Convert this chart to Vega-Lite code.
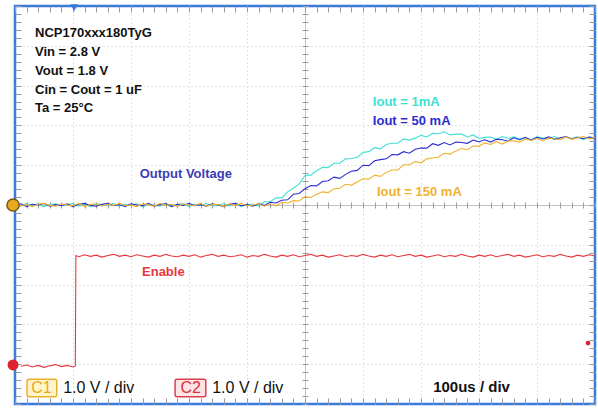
{
"$schema": "https://vega.github.io/schema/vega-lite/v6.json",
"width": 580, "height": 398,
"autosize": {"type": "none"},
"padding": {"left": 15, "top": 6, "right": 3, "bottom": 4},
"background": "white",
"config": {"view": {"stroke": "#3a7ad8", "strokeWidth": 2.5}, "font": "Liberation Sans"},
"datasets": {
"traces": [
{"t":0,"v":0.02,"s":"a"},{"t":10,"v":-0.03,"s":"a"},{"t":20,"v":0.04,"s":"a"},{"t":30,"v":-0.01,"s":"a"},{"t":40,"v":0.03,"s":"a"},{"t":50,"v":-0.04,"s":"a"},{"t":60,"v":0.01,"s":"a"},{"t":70,"v":0.03,"s":"a"},{"t":80,"v":-0.02,"s":"a"},{"t":90,"v":0.0,"s":"a"},{"t":100,"v":0.04,"s":"a"},{"t":110,"v":-0.03,"s":"a"},{"t":120,"v":0.02,"s":"a"},{"t":130,"v":-0.04,"s":"a"},{"t":140,"v":0.03,"s":"a"},{"t":150,"v":0.01,"s":"a"},{"t":160,"v":-0.02,"s":"a"},{"t":170,"v":0.04,"s":"a"},{"t":180,"v":-0.03,"s":"a"},{"t":190,"v":0.02,"s":"a"},{"t":200,"v":-0.01,"s":"a"},{"t":210,"v":0.03,"s":"a"},{"t":220,"v":-0.04,"s":"a"},{"t":230,"v":0.02,"s":"a"},{"t":240,"v":0.0,"s":"a"},{"t":250,"v":-0.03,"s":"a"},{"t":260,"v":0.04,"s":"a"},{"t":270,"v":-0.02,"s":"a"},{"t":280,"v":0.01,"s":"a"},{"t":290,"v":0.03,"s":"a"},{"t":300,"v":-0.04,"s":"a"},{"t":310,"v":0.02,"s":"a"},{"t":320,"v":-0.01,"s":"a"},{"t":330,"v":0.04,"s":"a"},{"t":340,"v":-0.03,"s":"a"},{"t":350,"v":0.0,"s":"a"},{"t":360,"v":0.03,"s":"a"},{"t":370,"v":-0.02,"s":"a"},{"t":380,"v":0.04,"s":"a"},{"t":390,"v":-0.04,"s":"a"},{"t":400,"v":0.01,"s":"a"},{"t":410,"v":0.02,"s":"a"},{"t":420,"v":-0.02,"s":"a"},{"t":430,"v":0.08,"s":"a"},{"t":440,"v":0.08,"s":"a"},{"t":450,"v":0.18,"s":"a"},{"t":460,"v":0.18,"s":"a"},{"t":470,"v":0.33,"s":"a"},{"t":480,"v":0.42,"s":"a"},{"t":490,"v":0.53,"s":"a"},{"t":500,"v":0.74,"s":"a"},{"t":510,"v":0.75,"s":"a"},{"t":520,"v":0.86,"s":"a"},{"t":530,"v":0.95,"s":"a"},{"t":540,"v":0.94,"s":"a"},{"t":550,"v":1.05,"s":"a"},{"t":560,"v":1.05,"s":"a"},{"t":570,"v":1.16,"s":"a"},{"t":580,"v":1.17,"s":"a"},{"t":590,"v":1.2,"s":"a"},{"t":600,"v":1.32,"s":"a"},{"t":610,"v":1.34,"s":"a"},{"t":620,"v":1.44,"s":"a"},{"t":630,"v":1.41,"s":"a"},{"t":640,"v":1.52,"s":"a"},{"t":650,"v":1.55,"s":"a"},{"t":660,"v":1.55,"s":"a"},{"t":670,"v":1.66,"s":"a"},{"t":680,"v":1.63,"s":"a"},{"t":690,"v":1.68,"s":"a"},{"t":700,"v":1.75,"s":"a"},{"t":710,"v":1.71,"s":"a"},{"t":720,"v":1.8,"s":"a"},{"t":730,"v":1.79,"s":"a"},{"t":740,"v":1.84,"s":"a"},{"t":750,"v":1.76,"s":"a"},{"t":760,"v":1.78,"s":"a"},{"t":770,"v":1.78,"s":"a"},{"t":780,"v":1.71,"s":"a"},{"t":790,"v":1.76,"s":"a"},{"t":800,"v":1.67,"s":"a"},{"t":810,"v":1.7,"s":"a"},{"t":820,"v":1.71,"s":"a"},{"t":830,"v":1.65,"s":"a"},{"t":840,"v":1.72,"s":"a"},{"t":850,"v":1.67,"s":"a"},{"t":860,"v":1.71,"s":"a"},{"t":870,"v":1.66,"s":"a"},{"t":880,"v":1.69,"s":"a"},{"t":890,"v":1.64,"s":"a"},{"t":900,"v":1.71,"s":"a"},{"t":910,"v":1.68,"s":"a"},{"t":920,"v":1.66,"s":"a"},{"t":930,"v":1.72,"s":"a"},{"t":940,"v":1.65,"s":"a"},{"t":950,"v":1.7,"s":"a"},{"t":960,"v":1.67,"s":"a"},{"t":970,"v":1.71,"s":"a"},{"t":980,"v":1.64,"s":"a"},{"t":990,"v":1.7,"s":"a"},{"t":1000,"v":1.68,"s":"a"},
{"t":0,"v":-0.01,"s":"b"},{"t":10,"v":0.03,"s":"b"},{"t":20,"v":-0.04,"s":"b"},{"t":30,"v":0.02,"s":"b"},{"t":40,"v":0.0,"s":"b"},{"t":50,"v":0.04,"s":"b"},{"t":60,"v":-0.03,"s":"b"},{"t":70,"v":0.01,"s":"b"},{"t":80,"v":-0.02,"s":"b"},{"t":90,"v":0.03,"s":"b"},{"t":100,"v":-0.04,"s":"b"},{"t":110,"v":0.02,"s":"b"},{"t":120,"v":0.04,"s":"b"},{"t":130,"v":-0.01,"s":"b"},{"t":140,"v":-0.03,"s":"b"},{"t":150,"v":0.02,"s":"b"},{"t":160,"v":0.04,"s":"b"},{"t":170,"v":-0.02,"s":"b"},{"t":180,"v":0.01,"s":"b"},{"t":190,"v":-0.04,"s":"b"},{"t":200,"v":0.03,"s":"b"},{"t":210,"v":0.0,"s":"b"},{"t":220,"v":-0.02,"s":"b"},{"t":230,"v":0.04,"s":"b"},{"t":240,"v":-0.03,"s":"b"},{"t":250,"v":0.01,"s":"b"},{"t":260,"v":0.03,"s":"b"},{"t":270,"v":-0.04,"s":"b"},{"t":280,"v":0.02,"s":"b"},{"t":290,"v":-0.01,"s":"b"},{"t":300,"v":0.04,"s":"b"},{"t":310,"v":-0.02,"s":"b"},{"t":320,"v":0.01,"s":"b"},{"t":330,"v":-0.03,"s":"b"},{"t":340,"v":0.03,"s":"b"},{"t":350,"v":0.0,"s":"b"},{"t":360,"v":-0.04,"s":"b"},{"t":370,"v":0.02,"s":"b"},{"t":380,"v":0.04,"s":"b"},{"t":390,"v":-0.02,"s":"b"},{"t":400,"v":0.01,"s":"b"},{"t":410,"v":-0.03,"s":"b"},{"t":420,"v":0.03,"s":"b"},{"t":430,"v":-0.01,"s":"b"},{"t":440,"v":0.07,"s":"b"},{"t":450,"v":0.05,"s":"b"},{"t":460,"v":0.12,"s":"b"},{"t":470,"v":0.13,"s":"b"},{"t":480,"v":0.27,"s":"b"},{"t":490,"v":0.29,"s":"b"},{"t":500,"v":0.41,"s":"b"},{"t":510,"v":0.49,"s":"b"},{"t":520,"v":0.48,"s":"b"},{"t":530,"v":0.59,"s":"b"},{"t":540,"v":0.61,"s":"b"},{"t":550,"v":0.7,"s":"b"},{"t":560,"v":0.67,"s":"b"},{"t":570,"v":0.77,"s":"b"},{"t":580,"v":0.85,"s":"b"},{"t":590,"v":0.87,"s":"b"},{"t":600,"v":1.0,"s":"b"},{"t":610,"v":0.99,"s":"b"},{"t":620,"v":1.11,"s":"b"},{"t":630,"v":1.14,"s":"b"},{"t":640,"v":1.16,"s":"b"},{"t":650,"v":1.27,"s":"b"},{"t":660,"v":1.26,"s":"b"},{"t":670,"v":1.34,"s":"b"},{"t":680,"v":1.3,"s":"b"},{"t":690,"v":1.4,"s":"b"},{"t":700,"v":1.43,"s":"b"},{"t":710,"v":1.43,"s":"b"},{"t":720,"v":1.54,"s":"b"},{"t":730,"v":1.5,"s":"b"},{"t":740,"v":1.57,"s":"b"},{"t":750,"v":1.51,"s":"b"},{"t":760,"v":1.58,"s":"b"},{"t":770,"v":1.57,"s":"b"},{"t":780,"v":1.55,"s":"b"},{"t":790,"v":1.63,"s":"b"},{"t":800,"v":1.59,"s":"b"},{"t":810,"v":1.64,"s":"b"},{"t":820,"v":1.58,"s":"b"},{"t":830,"v":1.65,"s":"b"},{"t":840,"v":1.64,"s":"b"},{"t":850,"v":1.61,"s":"b"},{"t":860,"v":1.69,"s":"b"},{"t":870,"v":1.64,"s":"b"},{"t":880,"v":1.7,"s":"b"},{"t":890,"v":1.63,"s":"b"},{"t":900,"v":1.7,"s":"b"},{"t":910,"v":1.66,"s":"b"},{"t":920,"v":1.71,"s":"b"},{"t":930,"v":1.65,"s":"b"},{"t":940,"v":1.69,"s":"b"},{"t":950,"v":1.72,"s":"b"},{"t":960,"v":1.66,"s":"b"},{"t":970,"v":1.7,"s":"b"},{"t":980,"v":1.67,"s":"b"},{"t":990,"v":1.71,"s":"b"},{"t":1000,"v":1.68,"s":"b"},
{"t":0,"v":0.03,"s":"c"},{"t":10,"v":-0.02,"s":"c"},{"t":20,"v":0.01,"s":"c"},{"t":30,"v":-0.04,"s":"c"},{"t":40,"v":0.02,"s":"c"},{"t":50,"v":0.04,"s":"c"},{"t":60,"v":-0.01,"s":"c"},{"t":70,"v":-0.03,"s":"c"},{"t":80,"v":0.03,"s":"c"},{"t":90,"v":0.0,"s":"c"},{"t":100,"v":-0.02,"s":"c"},{"t":110,"v":0.04,"s":"c"},{"t":120,"v":-0.04,"s":"c"},{"t":130,"v":0.01,"s":"c"},{"t":140,"v":0.03,"s":"c"},{"t":150,"v":-0.03,"s":"c"},{"t":160,"v":0.02,"s":"c"},{"t":170,"v":-0.01,"s":"c"},{"t":180,"v":0.04,"s":"c"},{"t":190,"v":-0.02,"s":"c"},{"t":200,"v":0.0,"s":"c"},{"t":210,"v":-0.04,"s":"c"},{"t":220,"v":0.03,"s":"c"},{"t":230,"v":0.01,"s":"c"},{"t":240,"v":-0.03,"s":"c"},{"t":250,"v":0.04,"s":"c"},{"t":260,"v":-0.01,"s":"c"},{"t":270,"v":0.02,"s":"c"},{"t":280,"v":-0.04,"s":"c"},{"t":290,"v":0.03,"s":"c"},{"t":300,"v":0.0,"s":"c"},{"t":310,"v":-0.02,"s":"c"},{"t":320,"v":0.04,"s":"c"},{"t":330,"v":-0.03,"s":"c"},{"t":340,"v":0.01,"s":"c"},{"t":350,"v":0.02,"s":"c"},{"t":360,"v":-0.04,"s":"c"},{"t":370,"v":0.03,"s":"c"},{"t":380,"v":-0.01,"s":"c"},{"t":390,"v":0.04,"s":"c"},{"t":400,"v":-0.02,"s":"c"},{"t":410,"v":0.0,"s":"c"},{"t":420,"v":0.03,"s":"c"},{"t":430,"v":-0.03,"s":"c"},{"t":440,"v":0.03,"s":"c"},{"t":450,"v":-0.02,"s":"c"},{"t":460,"v":0.07,"s":"c"},{"t":470,"v":0.05,"s":"c"},{"t":480,"v":0.11,"s":"c"},{"t":490,"v":0.1,"s":"c"},{"t":500,"v":0.21,"s":"c"},{"t":510,"v":0.19,"s":"c"},{"t":520,"v":0.27,"s":"c"},{"t":530,"v":0.33,"s":"c"},{"t":540,"v":0.31,"s":"c"},{"t":550,"v":0.41,"s":"c"},{"t":560,"v":0.42,"s":"c"},{"t":570,"v":0.52,"s":"c"},{"t":580,"v":0.5,"s":"c"},{"t":590,"v":0.58,"s":"c"},{"t":600,"v":0.66,"s":"c"},{"t":610,"v":0.65,"s":"c"},{"t":620,"v":0.75,"s":"c"},{"t":630,"v":0.72,"s":"c"},{"t":640,"v":0.82,"s":"c"},{"t":650,"v":0.88,"s":"c"},{"t":660,"v":0.88,"s":"c"},{"t":670,"v":1.01,"s":"c"},{"t":680,"v":1.01,"s":"c"},{"t":690,"v":1.09,"s":"c"},{"t":700,"v":1.06,"s":"c"},{"t":710,"v":1.16,"s":"c"},{"t":720,"v":1.18,"s":"c"},{"t":730,"v":1.2,"s":"c"},{"t":740,"v":1.3,"s":"c"},{"t":750,"v":1.28,"s":"c"},{"t":760,"v":1.36,"s":"c"},{"t":770,"v":1.42,"s":"c"},{"t":780,"v":1.39,"s":"c"},{"t":790,"v":1.48,"s":"c"},{"t":800,"v":1.48,"s":"c"},{"t":810,"v":1.56,"s":"c"},{"t":820,"v":1.52,"s":"c"},{"t":830,"v":1.59,"s":"c"},{"t":840,"v":1.53,"s":"c"},{"t":850,"v":1.61,"s":"c"},{"t":860,"v":1.61,"s":"c"},{"t":870,"v":1.58,"s":"c"},{"t":880,"v":1.66,"s":"c"},{"t":890,"v":1.62,"s":"c"},{"t":900,"v":1.67,"s":"c"},{"t":910,"v":1.61,"s":"c"},{"t":920,"v":1.68,"s":"c"},{"t":930,"v":1.66,"s":"c"},{"t":940,"v":1.65,"s":"c"},{"t":950,"v":1.71,"s":"c"},{"t":960,"v":1.65,"s":"c"},{"t":970,"v":1.69,"s":"c"},{"t":980,"v":1.72,"s":"c"},{"t":990,"v":1.66,"s":"c"},{"t":1000,"v":1.7,"s":"c"},
{"t":10,"v":-4.05,"s":"en"},{"t":20,"v":-4.02,"s":"en"},{"t":30,"v":-4.07,"s":"en"},{"t":40,"v":-4.03,"s":"en"},{"t":50,"v":-4.08,"s":"en"},{"t":60,"v":-4.04,"s":"en"},{"t":70,"v":-4.01,"s":"en"},{"t":80,"v":-4.06,"s":"en"},{"t":90,"v":-4.03,"s":"en"},{"t":100,"v":-4.07,"s":"en"},{"t":104,"v":-4.05,"s":"en"},{"t":105,"v":-1.27,"s":"en"},{"t":110,"v":-1.3,"s":"en"},{"t":120,"v":-1.25,"s":"en"},{"t":130,"v":-1.29,"s":"en"},{"t":140,"v":-1.26,"s":"en"},{"t":150,"v":-1.31,"s":"en"},{"t":160,"v":-1.27,"s":"en"},{"t":170,"v":-1.24,"s":"en"},{"t":180,"v":-1.29,"s":"en"},{"t":190,"v":-1.26,"s":"en"},{"t":200,"v":-1.3,"s":"en"},{"t":210,"v":-1.25,"s":"en"},{"t":220,"v":-1.28,"s":"en"},{"t":230,"v":-1.31,"s":"en"},{"t":240,"v":-1.26,"s":"en"},{"t":250,"v":-1.29,"s":"en"},{"t":260,"v":-1.24,"s":"en"},{"t":270,"v":-1.28,"s":"en"},{"t":280,"v":-1.3,"s":"en"},{"t":290,"v":-1.26,"s":"en"},{"t":300,"v":-1.29,"s":"en"},{"t":310,"v":-1.25,"s":"en"},{"t":320,"v":-1.31,"s":"en"},{"t":330,"v":-1.27,"s":"en"},{"t":340,"v":-1.24,"s":"en"},{"t":350,"v":-1.29,"s":"en"},{"t":360,"v":-1.26,"s":"en"},{"t":370,"v":-1.3,"s":"en"},{"t":380,"v":-1.28,"s":"en"},{"t":390,"v":-1.25,"s":"en"},{"t":400,"v":-1.31,"s":"en"},{"t":410,"v":-1.27,"s":"en"},{"t":420,"v":-1.29,"s":"en"},{"t":430,"v":-1.24,"s":"en"},{"t":440,"v":-1.28,"s":"en"},{"t":450,"v":-1.31,"s":"en"},{"t":460,"v":-1.26,"s":"en"},{"t":470,"v":-1.29,"s":"en"},{"t":480,"v":-1.25,"s":"en"},{"t":490,"v":-1.3,"s":"en"},{"t":500,"v":-1.27,"s":"en"},{"t":510,"v":-1.24,"s":"en"},{"t":520,"v":-1.29,"s":"en"},{"t":530,"v":-1.26,"s":"en"},{"t":540,"v":-1.31,"s":"en"},{"t":550,"v":-1.28,"s":"en"},{"t":560,"v":-1.25,"s":"en"},{"t":570,"v":-1.3,"s":"en"},{"t":580,"v":-1.27,"s":"en"},{"t":590,"v":-1.29,"s":"en"},{"t":600,"v":-1.24,"s":"en"},{"t":610,"v":-1.28,"s":"en"},{"t":620,"v":-1.31,"s":"en"},{"t":630,"v":-1.26,"s":"en"},{"t":640,"v":-1.29,"s":"en"},{"t":650,"v":-1.25,"s":"en"},{"t":660,"v":-1.3,"s":"en"},{"t":670,"v":-1.27,"s":"en"},{"t":680,"v":-1.24,"s":"en"},{"t":690,"v":-1.29,"s":"en"},{"t":700,"v":-1.26,"s":"en"},{"t":710,"v":-1.31,"s":"en"},{"t":720,"v":-1.28,"s":"en"},{"t":730,"v":-1.25,"s":"en"},{"t":740,"v":-1.3,"s":"en"},{"t":750,"v":-1.27,"s":"en"},{"t":760,"v":-1.29,"s":"en"},{"t":770,"v":-1.24,"s":"en"},{"t":780,"v":-1.28,"s":"en"},{"t":790,"v":-1.31,"s":"en"},{"t":800,"v":-1.26,"s":"en"},{"t":810,"v":-1.29,"s":"en"},{"t":820,"v":-1.25,"s":"en"},{"t":830,"v":-1.3,"s":"en"},{"t":840,"v":-1.27,"s":"en"},{"t":850,"v":-1.24,"s":"en"},{"t":860,"v":-1.29,"s":"en"},{"t":870,"v":-1.26,"s":"en"},{"t":880,"v":-1.31,"s":"en"},{"t":890,"v":-1.28,"s":"en"},{"t":900,"v":-1.25,"s":"en"},{"t":910,"v":-1.3,"s":"en"},{"t":920,"v":-1.27,"s":"en"},{"t":930,"v":-1.29,"s":"en"},{"t":940,"v":-1.24,"s":"en"},{"t":950,"v":-1.28,"s":"en"},{"t":960,"v":-1.31,"s":"en"},{"t":970,"v":-1.26,"s":"en"},{"t":980,"v":-1.29,"s":"en"},{"t":990,"v":-1.25,"s":"en"},{"t":1000,"v":-1.28,"s":"en"}
],
"labels": [
{"t":34.5,"v":4.32,"s":"k","label":"NCP170xxx180TyG"},
{"t":34.5,"v":3.84,"s":"k","label":"Vin = 2.8 V"},
{"t":34.5,"v":3.37,"s":"k","label":"Vout = 1.8 V"},
{"t":34.5,"v":2.89,"s":"k","label":"Cin = Cout = 1 uF"},
{"t":34.5,"v":2.44,"s":"k","label":"Ta = 25°C"},
{"t":215,"v":0.78,"s":"ov","label":"Output Voltage"},
{"t":617,"v":2.59,"s":"a","label":"Iout = 1mA"},
{"t":617,"v":2.11,"s":"b","label":"Iout = 50 mA"},
{"t":624,"v":0.33,"s":"c","label":"Iout = 150 mA"},
{"t":219,"v":-1.68,"s":"en","label":"Enable"}
],
"bottom": [
{"t":83,"v":-4.6,"s":"k","label":"1.0 V / div"},
{"t":340,"v":-4.6,"s":"k","label":"1.0 V / div"}
],
"boxlabels": [
{"t":45.7,"v":-4.6,"s":"c1","label":"C1"},
{"t":303,"v":-4.6,"s":"c2","label":"C2"}
],
"boxes": [
{"t":20.7,"t2":72,"v":-4.38,"v2":-4.82,"s":"c1"},
{"t":276,"t2":329,"v":-4.38,"v2":-4.82,"s":"c2"}
]
},
"resolve": {"axis": {"x": "independent", "y": "independent"}},
"layer": [
{
"data": {"name": "boxes"},
"mark": {"type": "rect", "strokeWidth": 1.5, "cornerRadius": 2},
"encoding": {
"x": {"field": "t", "type": "quantitative", "scale": {"domain": [0, 1000], "nice": false, "zero": false}, "axis": {"orient": "top", "offset": -6, "values": [0,20,40,60,80,100,120,140,160,180,200,220,240,260,280,300,320,340,360,380,400,420,440,460,480,500,520,540,560,580,600,620,640,660,680,700,720,740,760,780,800,820,840,860,880,900,920,940,960,980,1000], "labels": false, "domain": false, "grid": false, "ticks": true, "tickSize": 6, "tickWidth": 1, "tickColor": "#9a9a9a", "title": null}},
"x2": {"field": "t2"},
"y": {"field": "v", "type": "quantitative", "scale": {"domain": [-5, 5], "nice": false, "zero": false}, "axis": {"orient": "right", "offset": -6, "values": [-5,-4.8,-4.6,-4.4,-4.2,-4,-3.8,-3.6,-3.4,-3.2,-3,-2.8,-2.6,-2.4,-2.2,-2,-1.8,-1.6,-1.4,-1.2,-1,-0.8,-0.6,-0.4,-0.2,0,0.2,0.4,0.6,0.8,1,1.2,1.4,1.6,1.8,2,2.2,2.4,2.6,2.8,3,3.2,3.4,3.6,3.8,4,4.2,4.4,4.6,4.8,5], "labels": false, "domain": false, "grid": false, "ticks": true, "tickSize": 6, "tickWidth": 1, "tickColor": "#9a9a9a", "title": null}},
"y2": {"field": "v2"},
"fill": {"field": "s", "type": "nominal", "scale": {"domain": ["c1", "c2"], "range": ["#fff4c8", "#ffe4e6"]}, "legend": null},
"stroke": {"field": "s", "type": "nominal", "scale": {"domain": ["c1", "c2"], "range": ["#e8b030", "#d84050"]}, "legend": null}
}
},
{
"data": {"name": "traces"},
"mark": {"type": "line", "strokeWidth": 1.1, "clip": true},
"encoding": {
"x": {"field": "t", "type": "quantitative", "axis": {"orient": "bottom", "values": [100,200,300,400,500,600,700,800,900], "labels": false, "domain": false, "ticks": false, "title": null, "grid": true,
"gridColor": {"condition": {"test": "datum.value === 500", "value": "#c0c0c0"}, "value": "#c4c4c4"},
"gridDash": {"condition": {"test": "datum.value === 500", "value": []}, "value": [1, 3]}}},
"y": {"field": "v", "type": "quantitative", "axis": {"orient": "left", "values": [-4,-3,-2,-1,0,1,2,3,4], "labels": false, "domain": false, "ticks": false, "title": null, "grid": true,
"gridColor": {"condition": {"test": "datum.value === 0", "value": "#c0c0c0"}, "value": "#c4c4c4"},
"gridDash": {"condition": {"test": "datum.value === 0", "value": []}, "value": [1, 3]}}},
"color": {"field": "s", "type": "nominal", "scale": {"domain": ["a", "b", "c", "en", "k", "ov", "c1", "c2"], "range": ["#3ee0d2", "#2c2cd0", "#f2b12e", "#e8383f", "#111111", "#3c3cb4", "#e8a820", "#d8303c"]}, "legend": null},
"order": {"field": "t", "type": "quantitative"}
}
},
{
"data": {"name": "labels"},
"mark": {"type": "text", "align": "left", "baseline": "middle", "fontSize": 13, "fontWeight": "bold"},
"encoding": {
"x": {"field": "t", "type": "quantitative", "axis": {"orient": "bottom", "offset": -6, "values": [0,20,40,60,80,100,120,140,160,180,200,220,240,260,280,300,320,340,360,380,400,420,440,460,480,500,520,540,560,580,600,620,640,660,680,700,720,740,760,780,800,820,840,860,880,900,920,940,960,980,1000], "labels": false, "domain": false, "grid": false, "ticks": true, "tickSize": 6, "tickWidth": 1, "tickColor": "#9a9a9a", "title": null}},
"y": {"field": "v", "type": "quantitative", "axis": {"orient": "left", "offset": -6, "values": [-5,-4.8,-4.6,-4.4,-4.2,-4,-3.8,-3.6,-3.4,-3.2,-3,-2.8,-2.6,-2.4,-2.2,-2,-1.8,-1.6,-1.4,-1.2,-1,-0.8,-0.6,-0.4,-0.2,0,0.2,0.4,0.6,0.8,1,1.2,1.4,1.6,1.8,2,2.2,2.4,2.6,2.8,3,3.2,3.4,3.6,3.8,4,4.2,4.4,4.6,4.8,5], "labels": false, "domain": false, "grid": false, "ticks": true, "tickSize": 6, "tickWidth": 1, "tickColor": "#9a9a9a", "title": null}},
"text": {"field": "label"},
"color": {"field": "s", "type": "nominal", "legend": null}
}
},
{
"data": {"name": "bottom"},
"mark": {"type": "text", "align": "left", "baseline": "middle", "fontSize": 16},
"encoding": {
"x": {"field": "t", "type": "quantitative", "axis": {"orient": "bottom", "offset": -202, "values": [0,20,40,60,80,100,120,140,160,180,200,220,240,260,280,300,320,340,360,380,400,420,440,460,480,500,520,540,560,580,600,620,640,660,680,700,720,740,760,780,800,820,840,860,880,900,920,940,960,980,1000], "labels": false, "domain": false, "grid": false, "ticks": true, "tickSize": 6, "tickWidth": 1, "tickColor": "#9a9a9a", "title": null}},
"y": {"field": "v", "type": "quantitative", "axis": {"orient": "left", "offset": -293, "values": [-5,-4.8,-4.6,-4.4,-4.2,-4,-3.8,-3.6,-3.4,-3.2,-3,-2.8,-2.6,-2.4,-2.2,-2,-1.8,-1.6,-1.4,-1.2,-1,-0.8,-0.6,-0.4,-0.2,0,0.2,0.4,0.6,0.8,1,1.2,1.4,1.6,1.8,2,2.2,2.4,2.6,2.8,3,3.2,3.4,3.6,3.8,4,4.2,4.4,4.6,4.8,5], "labels": false, "domain": false, "grid": false, "ticks": true, "tickSize": 6, "tickWidth": 1, "tickColor": "#9a9a9a", "title": null}},
"text": {"field": "label"},
"color": {"field": "s", "type": "nominal", "legend": null}
}
},
{
"data": {"name": "boxlabels"},
"mark": {"type": "text", "align": "center", "baseline": "middle", "fontSize": 16},
"encoding": {
"x": {"field": "t", "type": "quantitative", "axis": null},
"y": {"field": "v", "type": "quantitative", "axis": null},
"text": {"field": "label"},
"color": {"field": "s", "type": "nominal", "legend": null}
}
},
{
"data": {"values": [{"t": 721, "v": -4.58, "s": "k", "label": "100us / div"}]},
"mark": {"type": "text", "align": "left", "baseline": "middle", "fontSize": 15, "fontWeight": "bold"},
"encoding": {
"x": {"field": "t", "type": "quantitative", "axis": null},
"y": {"field": "v", "type": "quantitative", "axis": null},
"text": {"field": "label"},
"color": {"field": "s", "type": "nominal", "legend": null}
}
},
{
"data": {"values": [{"t": -3.4, "v": 0}]},
"mark": {"type": "point", "filled": true, "size": 150, "color": "#e8a820", "stroke": "#7a5a10", "strokeWidth": 1.5, "opacity": 1},
"encoding": {
"x": {"field": "t", "type": "quantitative", "axis": null},
"y": {"field": "v", "type": "quantitative", "axis": null}
}
},
{
"data": {"values": [{"t": -3.4, "v": -4.02}]},
"mark": {"type": "point", "filled": true, "size": 120, "color": "#e0202c", "opacity": 1},
"encoding": {
"x": {"field": "t", "type": "quantitative", "axis": null},
"y": {"field": "v", "type": "quantitative", "axis": null}
}
},
{
"data": {"values": [{"t": 988, "v": -3.47}]},
"mark": {"type": "point", "filled": true, "size": 22, "color": "#e0202c", "opacity": 1},
"encoding": {
"x": {"field": "t", "type": "quantitative", "axis": null},
"y": {"field": "v", "type": "quantitative", "axis": null}
}
},
{
"data": {"values": [{"t": 102, "v": 4.96}]},
"mark": {"type": "point", "filled": true, "shape": "triangle-down", "size": 60, "color": "#3a7ad8", "opacity": 1},
"encoding": {
"x": {"field": "t", "type": "quantitative", "axis": null},
"y": {"field": "v", "type": "quantitative", "axis": null}
}
}
]
}
